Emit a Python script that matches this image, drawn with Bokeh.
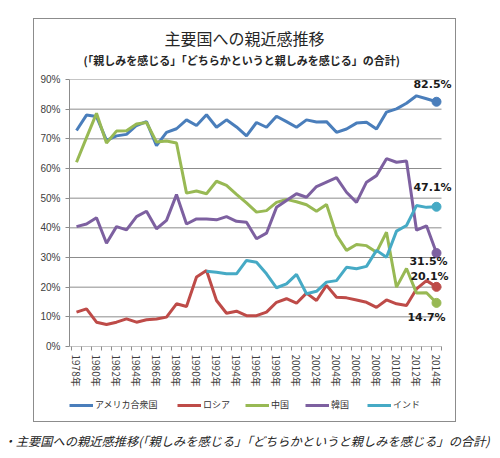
import math
from bokeh.plotting import figure
from bokeh.layouts import column
from bokeh.models import (Range1d, FixedTicker, Legend, LegendItem,
                          LabelSet, Label, ColumnDataSource)
from bokeh.embed import file_html
from bokeh.resources import INLINE
from bokeh.core.properties import value

nan = float("nan")

years = list(range(1978, 2015))

usa = [72.8, 78.0, 77.5, 69.5, 71.0, 71.5, 74.5, 75.8, 67.7, 72.2,
       73.4, 76.4, 74.5, 78.1, 73.9, 76.4, 74.0, 71.0, 75.5, 73.9,
       77.6, 75.8, 73.9, 76.4, 75.7, 75.8, 72.2, 73.3, 75.3, 75.6,
       73.3, 79.0, 80.1, 82.0, 84.5, 83.5, 82.5]
russia = [11.6, 12.7, 8.2, 7.4, 8.2, 9.3, 8.2, 9.0, 9.3, 9.9,
          14.4, 13.5, 23.4, 25.6, 15.5, 11.2, 11.9, 10.4, 10.4, 11.6,
          14.9, 16.1, 14.6, 18.0, 15.5, 20.6, 16.6, 16.4, 15.7, 14.9,
          13.2, 15.7, 14.4, 13.8, 19.4, 22.2, 20.1]
china = [62.1, 70.4, 78.6, 68.6, 72.6, 72.7, 75.0, 75.5, 68.9, 69.3,
         68.6, 51.7, 52.4, 51.5, 55.7, 54.3, 51.3, 48.4, 45.3, 45.8,
         48.6, 49.6, 48.8, 47.8, 45.6, 47.9, 37.6, 32.4, 34.4, 34.0,
         31.8, 38.5, 20.0, 26.3, 18.0, 18.1, 14.7]
korea = [40.4, 41.3, 43.4, 34.8, 40.4, 39.3, 43.8, 45.6, 39.7, 42.5,
         51.2, 41.3, 43.0, 43.0, 42.7, 43.8, 42.2, 41.9, 36.3, 38.2,
         46.9, 49.2, 51.5, 50.3, 53.9, 55.4, 56.9, 52.0, 48.6, 55.4,
         57.6, 63.3, 62.1, 62.5, 39.2, 40.7, 31.5]
india = [nan, nan, nan, nan, nan, nan, nan, nan, nan, nan,
         nan, nan, nan, 25.4, 25.0, 24.5, 24.5, 29.0, 28.4, 24.5,
         19.8, 21.1, 24.3, 17.8, 18.6, 21.7, 22.2, 26.7, 26.2, 27.0,
         32.4, 30.1, 38.9, 40.8, 47.5, 46.9, 47.1]

series_names = ["アメリカ合衆国", "ロシア", "中国", "韓国", "インド"]
series_values = [usa, russia, china, korea, india]
series_colors = ["#4A7EBB", "#BE4B48", "#98B954", "#7D60A0", "#46AAC5"]

y_ticks = [0, 10, 20, 30, 40, 50, 60, 70, 80, 90]
y_tick_labels = ["0%", "10%", "20%", "30%", "40%", "50%", "60%", "70%", "80%", "90%"]
x_tick_years = [1978, 1980, 1982, 1984, 1986, 1988, 1990, 1992, 1994, 1996,
                1998, 2000, 2002, 2004, 2006, 2008, 2010, 2012, 2014]
x_tick_labels = ["1978年", "1980年", "1982年", "1984年", "1986年", "1988年",
                 "1990年", "1992年", "1994年", "1996年", "1998年", "2000年",
                 "2002年", "2004年", "2006年", "2008年", "2010年", "2012年",
                 "2014年"]

title_text = "主要国への親近感推移"
subtitle_text = "(「親しみを感じる」「どちらかというと親しみを感じる」の合計)"
caption_text = "・主要国への親近感推移(「親しみを感じる」「どちらかというと親しみを感じる」の合計)"

# end-label placement (screen px offsets), style only
label_dx = [-4, -7, -10, -8, -4]
label_dy = [17, 10, -15, -8, 19]
# legend entry positions in the legend strip (px from plot-area left), style only
legend_x = [0, 108, 176, 236, 298]

CJK = "Noto Sans CJK JP"
GRAY = "#8c8c8c"
LEFT = 35   # left border shared by the stacked pieces inside the box
W = 421


def strip(height, x_range, y_range, left=LEFT):
    f = figure(width=W, height=height, output_backend="svg",
               toolbar_location=None, x_range=x_range, y_range=y_range,
               x_axis_type=None, y_axis_type=None,
               min_border_left=left, min_border_right=0,
               min_border_top=0, min_border_bottom=0)
    f.outline_line_color = None
    f.xgrid.visible = False
    f.ygrid.visible = False
    return f


# ---------------- heading (inside the framed box) ----------------
head = strip(54, Range1d(LEFT, W), Range1d(0, 54))
head.add_layout(Label(x=210, y=36, text=title_text, text_font=CJK,
                      text_font_size="16px", text_color="#262626",
                      text_align="center", text_baseline="middle"))
head.add_layout(Label(x=210, y=14, text=subtitle_text, text_font=CJK,
                      text_font_size="11px", text_font_style="bold",
                      text_color="#262626", text_align="center",
                      text_baseline="middle"))

# ---------------- main chart (inside the framed box) ----------------
p = figure(width=W, height=324, output_backend="svg", toolbar_location=None,
           x_range=Range1d(years[0] - 0.7, years[0] - 0.7 + 38.6),
           y_range=Range1d(0, 90),
           min_border_left=LEFT, min_border_right=0, min_border_top=6,
           min_border_bottom=51)
p.outline_line_color = None
p.xgrid.visible = False
p.ygrid.visible = False

n = len(y_ticks)
p.segment(x0=[years[0] - 0.7] * n, y0=y_ticks,
          x1=[years[-1] + 0.5] * n, y1=y_ticks,
          line_color=GRAY, line_width=1)

ya = p.yaxis[0]
ya.ticker = FixedTicker(ticks=y_ticks)
ya.major_label_overrides = dict(zip(y_ticks, y_tick_labels))
ya.axis_line_color = GRAY
ya.major_tick_line_color = GRAY
ya.major_tick_out = 4
ya.major_tick_in = 0
ya.minor_tick_line_color = None
ya.major_label_standoff = 5
ya.major_label_text_font = "Liberation Sans"
ya.major_label_text_font_size = "10px"
ya.major_label_text_color = "#404040"

xa = p.xaxis[0]
xa.ticker = FixedTicker(ticks=x_tick_years,
                        minor_ticks=[y - 0.5 for y in years] + [years[-1] + 0.5])
xa.major_label_overrides = dict(zip(x_tick_years, x_tick_labels))
xa.major_label_orientation = -math.pi / 2
xa.axis_line_color = None
xa.major_tick_line_color = None
xa.minor_tick_line_color = GRAY
xa.minor_tick_out = 4
xa.minor_tick_in = 0
xa.major_label_standoff = 2
xa.major_label_text_font = CJK
xa.major_label_text_font_size = "10px"
xa.major_label_text_color = "#404040"

for vals, col in zip(series_values, series_colors):
    p.line(years, vals, line_width=3, line_color=col)
    p.scatter([years[-1]], [vals[-1]], size=9, fill_color=col, line_color=col)

src = ColumnDataSource(dict(
    x=[years[-1]] * len(series_values),
    y=[v[-1] for v in series_values],
    text=["%.1f%%" % v[-1] for v in series_values],
    dx=label_dx, dy=label_dy))
p.add_layout(LabelSet(x="x", y="y", text="text", source=src,
                      x_offset="dx", y_offset="dy",
                      text_align="center", text_baseline="middle",
                      text_font=value("DejaVu Sans"), text_font_style="bold",
                      text_font_size="11px", text_color="#1a1a1a"))

# ---------------- legend strip (inside the framed box) ----------------
lg = strip(24, Range1d(0, 1), Range1d(0, 1))
for name, vals, col, lx in zip(series_names, series_values, series_colors, legend_x):
    r = lg.line(years, vals, line_width=3, line_color=col)
    lg.add_layout(Legend(items=[LegendItem(label=name, renderers=[r])],
                         orientation="horizontal", location=(lx, 10),
                         glyph_width=24, glyph_height=12, label_standoff=2,
                         label_text_font=CJK, label_text_font_size="9px",
                         label_text_color="#333333", border_line_color=None,
                         background_fill_alpha=0, padding=1, margin=0))

# ---------------- caption below the box ----------------
cap = figure(width=500, height=36, output_backend="svg", toolbar_location=None,
             x_range=Range1d(0, 500), y_range=Range1d(0, 36),
             x_axis_type=None, y_axis_type=None,
             min_border_left=0, min_border_right=0,
             min_border_top=0, min_border_bottom=0)
cap.outline_line_color = None
cap.xgrid.visible = False
cap.ygrid.visible = False
cap.add_layout(Label(x=3, y=18, text=caption_text, text_font=CJK,
                     text_font_size="12.25px", text_font_style="italic",
                     text_color="#222222", text_baseline="middle"))

box = column(head, p, lg, margin=(18, 0, 0, 33),
             styles={"border": "1px solid #8c8c8c"})
page = column(box, cap)

open("out.html", "w").write(file_html(page, INLINE))
